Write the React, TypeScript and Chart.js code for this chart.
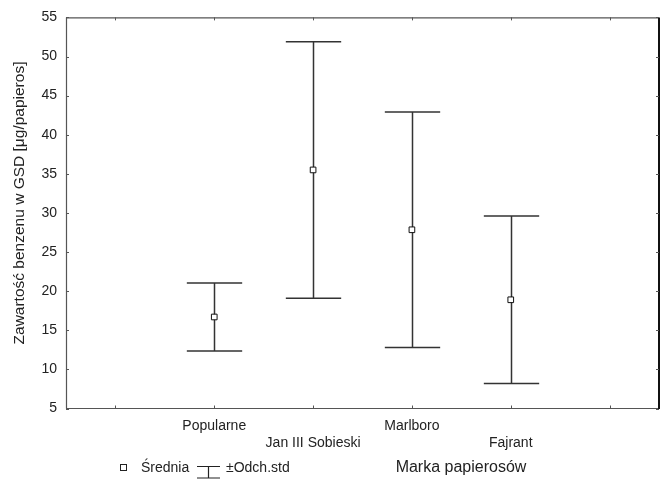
import { useEffect, useRef } from "react";
import { Chart, registerables } from "chart.js";

Chart.register(...registerables);

const categories = ["Popularne", "Jan III Sobieski", "Marlboro", "Fajrant"];
const positions = [1, 2, 3, 4];
const means = [16.7, 35.5, 27.85, 18.9];
const stdDevs = [4.35, 16.4, 15.05, 10.7];
const xTickPositions = [0, 1, 2, 3, 4, 5];
const yMin = 5;
const yMax = 55;
const yStep = 5;

const yTitle = "Zawartość benzenu w GSD [μg/papieros]";
const xTitle = "Marka papierosów";
const legendMean = "Średnia";
const legendStd = "±Odch.std";

const FONT = "'Liberation Sans', Arial, Helvetica, sans-serif";

const errorBarPlugin = {
  id: "errorBars",
  beforeDatasetsDraw(chart: any) {
    const { ctx, scales } = chart;
    const xs = scales.x;
    const ys = scales.y;
    const halfCap = (xs.getPixelForValue(1) - xs.getPixelForValue(0)) * 0.28;
    ctx.save();
    ctx.strokeStyle = "#333";
    ctx.lineWidth = 1.5;
    positions.forEach((p, i) => {
      const x = Math.round(xs.getPixelForValue(p)) + 0.5;
      const yt = ys.getPixelForValue(means[i] + stdDevs[i]);
      const yb = ys.getPixelForValue(means[i] - stdDevs[i]);
      ctx.beginPath();
      ctx.moveTo(x, yt);
      ctx.lineTo(x, yb);
      ctx.moveTo(x - halfCap, yt);
      ctx.lineTo(x + halfCap, yt);
      ctx.moveTo(x - halfCap, yb);
      ctx.lineTo(x + halfCap, yb);
      ctx.stroke();
    });
    ctx.restore();
  },
  afterDraw(chart: any) {
    const { ctx, chartArea, scales } = chart;
    const { left, right, top, bottom } = chartArea;
    const xs = scales.x;
    const ys = scales.y;
    ctx.save();
    // frame
    ctx.strokeStyle = "#555";
    ctx.lineWidth = 1.2;
    ctx.beginPath();
    ctx.moveTo(left + 0.5, top);
    ctx.lineTo(left + 0.5, bottom);
    ctx.moveTo(left, top + 0.5);
    ctx.lineTo(right, top + 0.5);
    ctx.moveTo(left, bottom);
    ctx.lineTo(right, bottom);
    ctx.stroke();
    ctx.strokeStyle = "#111";
    ctx.lineWidth = 2;
    ctx.beginPath();
    ctx.moveTo(right, top);
    ctx.lineTo(right, bottom + 0.5);
    ctx.stroke();
    // inner ticks
    ctx.strokeStyle = "#555";
    ctx.lineWidth = 1;
    ctx.beginPath();
    xTickPositions.forEach((p) => {
      const x = Math.round(xs.getPixelForValue(p)) + 0.5;
      ctx.moveTo(x, bottom);
      ctx.lineTo(x, bottom - 3);
      ctx.moveTo(x, top);
      ctx.lineTo(x, top + 3);
    });
    for (let v = yMin; v <= yMax; v += yStep) {
      const y = Math.round(ys.getPixelForValue(v)) + 0.5;
      ctx.moveTo(left, y);
      ctx.lineTo(left + 3, y);
      ctx.moveTo(right, y);
      ctx.lineTo(right - 3, y);
    }
    ctx.stroke();

    // y title
    ctx.fillStyle = "#222";
    ctx.font = `15.5px ${FONT}`;
    ctx.textAlign = "center";
    ctx.textBaseline = "middle";
    ctx.save();
    ctx.translate(20, 203);
    ctx.rotate(-Math.PI / 2);
    ctx.fillText(yTitle, 0, 0);
    ctx.restore();

    // legend row
    const ly = 468;
    ctx.strokeStyle = "#222";
    ctx.lineWidth = 1;
    ctx.strokeRect(120.5, ly - 3.5, 6, 6);
    ctx.font = `14px ${FONT}`;
    ctx.textAlign = "left";
    ctx.fillText(legendMean, 141, ly);
    ctx.lineWidth = 1.2;
    ctx.beginPath();
    ctx.moveTo(197, ly - 1.5);
    ctx.lineTo(220, ly - 1.5);
    ctx.moveTo(208.5, ly - 1.5);
    ctx.lineTo(208.5, ly + 10);
    ctx.moveTo(197, ly + 10);
    ctx.lineTo(220, ly + 10);
    ctx.stroke();
    ctx.fillText(legendStd, 226, ly);
    ctx.font = `16px ${FONT}`;
    ctx.textAlign = "center";
    ctx.fillText(xTitle, 461, ly);
    ctx.restore();
  },
};

export default function App() {
  const ref = useRef<HTMLCanvasElement>(null);
  useEffect(() => {
    if (!ref.current) return;
    const chart = new Chart(ref.current, {
      type: "scatter",
      data: {
        datasets: [
          {
            data: positions.map((p, i) => ({ x: p, y: means[i] })),
            pointStyle: "rect",
            pointRadius: 4,
            pointHoverRadius: 4,
            backgroundColor: "#fff",
            borderColor: "#111",
            borderWidth: 1,
          },
        ],
      },
      options: {
        animation: false,
        responsive: false,
        events: [],
        layout: { padding: { left: 0, top: 15, right: 2, bottom: 0 } },
        plugins: {
          legend: { display: false },
          tooltip: { enabled: false },
          title: { display: false },
        },
        scales: {
          x: {
            type: "linear",
            min: -0.5,
            max: 5.5,
            grid: { display: false, drawTicks: false },
            border: { display: false },
            afterBuildTicks: (s: any) => {
              s.ticks = xTickPositions.map((v) => ({ value: v }));
            },
            afterFit: (s: any) => {
              s.height = 72.5;
            },
            ticks: {
              autoSkip: false,
              maxRotation: 0,
              minRotation: 0,
              padding: 9,
              color: "#222",
              font: { size: 14, family: FONT, lineHeight: 1.2 },
              callback: (v: any) => {
                const i = positions.indexOf(Number(v));
                if (i < 0) return "";
                return i % 2 === 0 ? [categories[i], ""] : ["", categories[i]];
              },
            },
          },
          y: {
            type: "linear",
            min: yMin,
            max: yMax,
            grid: { display: false, drawTicks: false },
            border: { display: false },
            afterFit: (s: any) => {
              s.width = 66;
            },
            ticks: {
              stepSize: yStep,
              padding: 9,
              color: "#222",
              font: { size: 14, family: FONT },
            },
          },
        },
      },
      plugins: [errorBarPlugin],
    });
    return () => chart.destroy();
  }, []);
  return (
    <div style={{ position: "fixed", left: 0, top: 0, width: 664, height: 481, background: "#fff" }}>
      <canvas ref={ref} width={664} height={481} style={{ width: 664, height: 481 }} />
    </div>
  );
}
